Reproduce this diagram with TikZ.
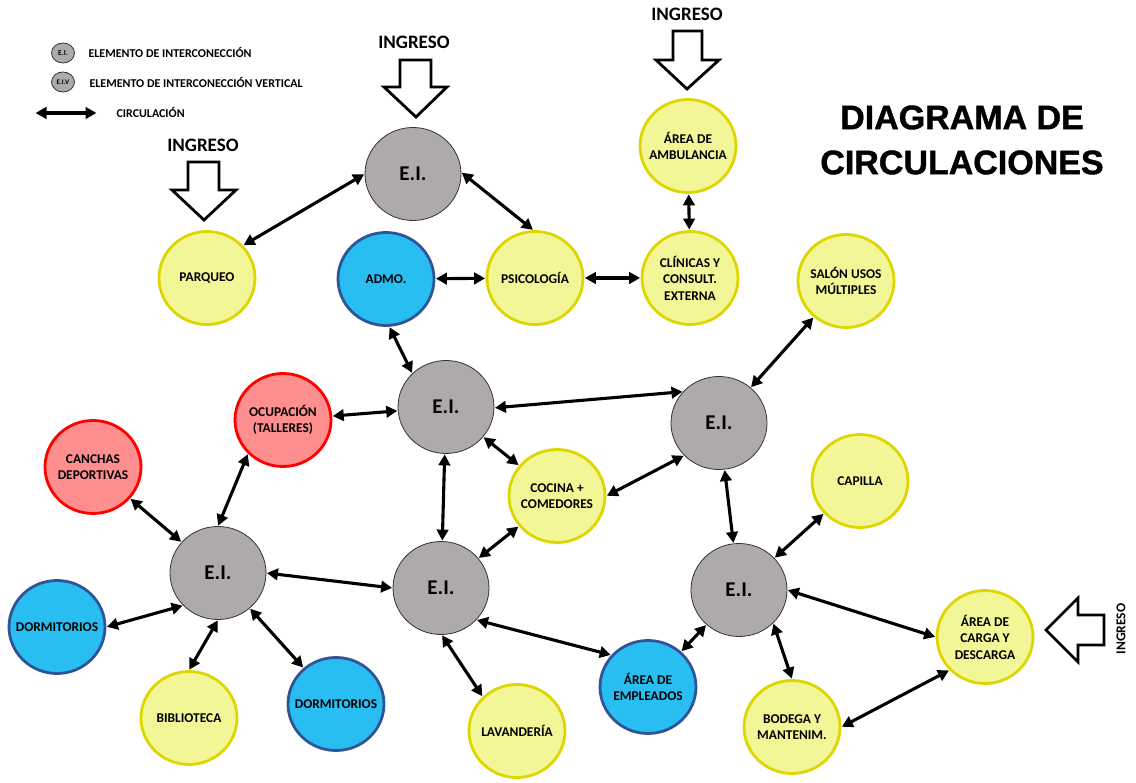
\documentclass[tikz,border=0pt]{standalone}
\usepackage{fontspec}
\setmainfont{Carlito}
\newfontfamily\titlefont{Liberation Sans}[BoldFeatures={FakeBold=1.2}]
\usetikzlibrary{arrows.meta,shapes.geometric}
\definecolor{eigrey}{RGB}{173,170,169}
\definecolor{eiborder}{RGB}{50,50,50}
\definecolor{yfill}{RGB}{242,246,150}
\definecolor{yborder}{RGB}{221,214,0}
\definecolor{bfill}{RGB}{40,190,242}
\definecolor{bborder}{RGB}{47,85,151}
\definecolor{rfill}{RGB}{255,143,143}
\definecolor{rborder}{RGB}{255,0,0}
\begin{document}
\begin{tikzpicture}[x=1pt,y=-1pt,
 room/.style={ellipse, minimum width=96pt, minimum height=93pt, inner xsep=-30pt, inner ysep=-20pt, line width=2.8pt, align=center, font=\bfseries\fontsize{13.4}{16.5}\selectfont},
 yroom/.style={room, draw=yborder, fill=yfill},
 broom/.style={room, draw=bborder, fill=bfill},
 rroom/.style={room, draw=rborder, fill=rfill},
 eibox/.style={ellipse, minimum width=96pt, minimum height=93pt, inner sep=0pt, draw=eiborder, line width=0.8pt, fill=eigrey, font=\bfseries\fontsize{21}{24}\selectfont},
 legcirc/.style={ellipse, minimum width=23pt, minimum height=20pt, inner sep=-4pt, draw=eiborder, line width=0.8pt, fill=eigrey, font=\bfseries\fontsize{7.5}{8}\selectfont},
 legtext/.style={anchor=west, font=\bfseries\fontsize{12}{13}\selectfont},
 circ/.style={line width=3.1pt, {Triangle[length=11pt,width=11.5pt]}-{Triangle[length=11pt,width=11.5pt]}, shorten >=0.5pt, shorten <=0.5pt},
 entry/.style={draw=black, line width=2.8pt, fill=white, line join=miter},
 entrylabel/.style={font=\bfseries\fontsize{19}{21}\selectfont},
]
\useasboundingbox (0,0) rectangle (1136,783);

% legend
\node[legcirc] (legei) at (63,53) {E.I.};
\node[legcirc, font=\bfseries\fontsize{7}{8}\selectfont] (legeiv) at (63,82) {E.I.V};
\node[legtext] (legt1) at (85,53) {ELEMENTO DE INTERCONECCIÓN};
\node[legtext] (legt2) at (86,83) {ELEMENTO DE INTERCONECCIÓN VERTICAL};
\coordinate (legA) at (35,113);
\coordinate (legB) at (97,113);
\draw[circ] (legA) -- (legB);
\node[legtext] (legt3) at (113,113) {CIRCULACIÓN};

% title
\node[font=\titlefont\bfseries\fontsize{34}{45}\selectfont, align=center] (title) at (962,140) {DIAGRAMA DE\\CIRCULACIONES};

% entries
\node[entrylabel] (ing1) at (414,42) {INGRESO};
\node[entrylabel] (ing2) at (203,145) {INGRESO};
\node[entrylabel] (ing3) at (687,14) {INGRESO};
\node[font=\bfseries\fontsize{13.5}{14}\selectfont, rotate=90] (ing4) at (1121,629) {INGRESO};
\draw[entry] (400,60) -- (431,60) -- (431,87) -- (447,87) -- (416,117) -- (384,87) -- (400,87) -- cycle;
\draw[entry] (188,162) -- (219,162) -- (219,190) -- (236,190) -- (204,220) -- (172,190) -- (188,190) -- cycle;
\draw[entry] (673,31) -- (702,31) -- (702,60) -- (719,60) -- (687,89) -- (656,60) -- (673,60) -- cycle;
\draw[entry] (1104,615) -- (1104,645) -- (1078,645) -- (1078,662) -- (1046,630) -- (1078,598) -- (1078,615) -- cycle;

% nodes
\node[eibox] (eitop) at (413,174) {E.I.};
\node[yroom] (parqueo) at (207,278) {PARQUEO};
\node[broom] (admo) at (386,279) {ADMO.};
\node[yroom] (psico) at (535,278) {PSICOLOGÍA};
\node[yroom] (clinicas) at (690,278) {CLÍNICAS Y\\CONSULT.\\EXTERNA};
\node[yroom] (ambul) at (688,146) {ÁREA DE\\AMBULANCIA};
\node[yroom] (salon) at (846,281) {SALÓN USOS\\MÚLTIPLES};
\node[eibox] (eimid) at (446,407) {E.I.};
\node[rroom] (ocup) at (283,420) {OCUPACIÓN\\(TALLERES)};
\node[eibox] (eiright) at (719,423) {E.I.};
\node[rroom] (canchas) at (93,467) {CANCHAS\\DEPORTIVAS};
\node[yroom] (cocina) at (557,496) {COCINA +\\COMEDORES};
\node[yroom] (capilla) at (860,481) {CAPILLA};
\node[eibox] (eileft) at (218,573) {E.I.};
\node[eibox] (eicb) at (441,588) {E.I.};
\node[eibox] (eirb) at (739,590) {E.I.};
\node[broom] (dorm1) at (57,627) {DORMITORIOS};
\node[broom] (dorm2) at (336,704) {DORMITORIOS};
\node[yroom] (bib) at (189,718) {BIBLIOTECA};
\node[yroom] (lav) at (517,731) {LAVANDERÍA};
\node[broom] (empl) at (648,687) {ÁREA DE\\EMPLEADOS};
\node[yroom] (bodega) at (792,727) {BODEGA Y\\MANTENIM.};
\node[yroom] (carga) at (985,637) {ÁREA DE\\CARGA Y\\DESCARGA};

% circulations
\draw[circ] (eitop.180) -- (parqueo.42);
\draw[circ] (eitop.2) -- (psico.92);
\draw[circ] (admo) -- (psico);
\draw[circ] (psico) -- (clinicas);
\draw[circ] (ambul) -- (clinicas);
\draw[circ] (admo.-86) -- (eimid.135);
\draw[circ] (ocup) -- (eimid);
\draw[circ] (eimid.-1) -- (eiright.139);
\draw[circ] (eimid) -- (cocina);
\draw[circ] (eimid) -- (eicb);
\draw[circ] (cocina.0) -- (eiright.223);
\draw[circ] (eicb) -- (cocina);
\draw[circ] (eiright) -- (salon);
\draw[circ] (eiright) -- (eirb);
\draw[circ] (eirb) -- (capilla);
\draw[circ] (eirb.0) -- (carga.180);
\draw[circ] (bodega.0) -- (carga.223);
\draw[circ] (eirb.-44) -- (bodega.90);
\draw[circ] (eirb) -- (empl);
\draw[circ] (eicb.-42) -- (empl.139);
\draw[circ] (eicb.-89) -- (lav.135);
\draw[circ] (eileft.0) -- (eicb.180);
\draw[circ] (eileft.90) -- (ocup.224);
\draw[circ] (eileft) -- (canchas);
\draw[circ] (dorm1.0) -- (eileft.223);
\draw[circ] (eileft.-90) -- (bib.90);
\draw[circ] (eileft) -- (dorm2);
\end{tikzpicture}
\end{document}
